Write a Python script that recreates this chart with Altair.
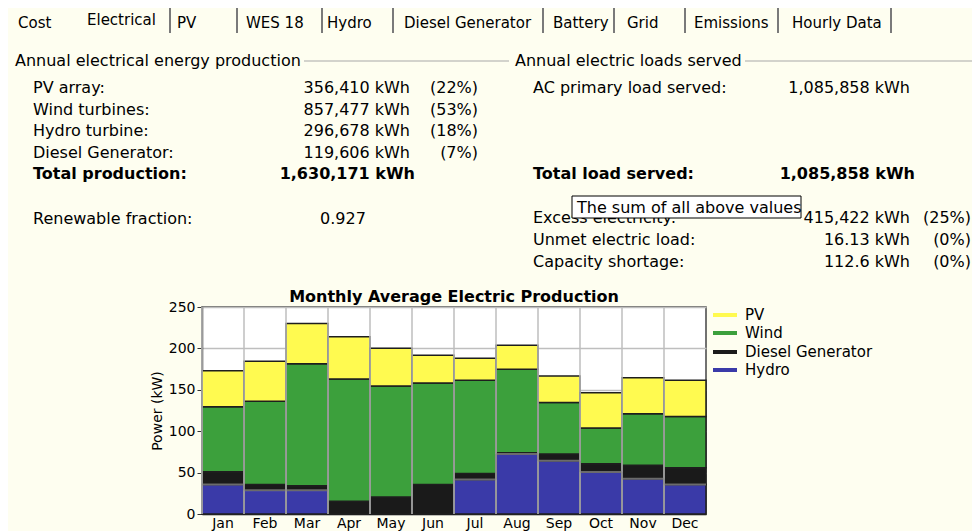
import altair as alt
import pandas as pd

# ---------------- data ----------------
months = ["Jan", "Feb", "Mar", "Apr", "May", "Jun", "Jul", "Aug", "Sep", "Oct", "Nov", "Dec"]
hydro = [35.6, 28.7, 28.7, 0.0, 0.0, 0.0, 41.7, 72.4, 64.3, 50.6, 42.5, 35.6]
diesel = [15.4, 6.9, 5.3, 15.4, 20.6, 35.6, 7.3, 1.6, 8.1, 10.1, 16.5, 20.2]
wind = [78.4, 100.7, 147.6, 147.6, 133.9, 122.6, 112.4, 100.8, 62.3, 43.3, 62.0, 61.9]
pv = [43.6, 48.2, 48.6, 51.0, 45.7, 33.5, 26.6, 29.1, 32.0, 42.4, 43.6, 43.7]
series_names = ["PV", "Wind", "Diesel Generator", "Hydro"]
series_colors = ["#FFFA50", "#3CA03C", "#1A1A1A", "#3A3AA8"]
y_ticks = [0, 50, 100, 150, 200, 250]

tab_names = ["Cost", "Electrical", "PV", "WES 18", "Hydro", "Diesel Generator",
             "Battery", "Grid", "Emissions", "Hourly Data"]

left_heading = "Annual electrical energy production"
left_labels = ["PV array:", "Wind turbines:", "Hydro turbine:", "Diesel Generator:"]
left_values = ["356,410 kWh", "857,477 kWh", "296,678 kWh", "119,606 kWh"]
left_pcts = ["(22%)", "(53%)", "(18%)", "(7%)"]
left_total_label = "Total production:"
left_total_value = "1,630,171 kWh"
renew_label = "Renewable fraction:"
renew_value = "0.927"

right_heading = "Annual electric loads served"
right_labels = ["AC primary load served:"]
right_values = ["1,085,858 kWh"]
right_total_label = "Total load served:"
right_total_value = "1,085,858 kWh"
extra_labels = ["Excess electricity:", "Unmet electric load:", "Capacity shortage:"]
extra_values = ["415,422 kWh", "16.13 kWh", "112.6 kWh"]
extra_pcts = ["(25%)", "(0%)", "(0%)"]
tooltip_text = "The sum of all above values"

chart_title = "Monthly Average Electric Production"
y_title = "Power (kW)"

# ---------------- layout (page pixels) ----------------
X0, Y0 = 202, 307          # plot-area origin on the page
PW, PH = 504, 207          # plot-area size
SVG_W, SVG_H = 964, 523    # whole drawing
FONT = "DejaVu Sans"

tab_x = [18, 87, 177, 246, 327, 404, 553, 627, 694, 792]
tab_base = [28, 25, 28, 28, 28, 28, 28, 28, 28, 28]
tab_sep_x = [170, 237, 322, 393, 543, 614, 685, 778, 891]
left_rows_y = [93, 114.5, 136, 157.5]
left_total_y = 179
renew_y = 224
extra_rows_y = [223, 245, 267]
legend_y = [315, 333, 352, 370]


def px(x):
    return x - X0


def py(y):
    return y - Y0


def text_layer(rows, align="left", weight="normal", size=16):
    df = pd.DataFrame(rows, columns=["t", "tx", "ty"])
    df["tx"] = df["tx"] - X0
    df["ty"] = df["ty"] - Y0
    return alt.Chart(df).mark_text(
        align=align, baseline="alphabetic", font=FONT, fontSize=size,
        fontWeight=weight, color="black"
    ).encode(
        x=alt.X("tx:Q", scale=None, axis=None),
        y=alt.Y("ty:Q", scale=None, axis=None),
        text="t:N",
    )


# ---------------- chart data ----------------
rows = []
for i, m in enumerate(months):
    for s, vals, o in [("Hydro", hydro, 0), ("Diesel Generator", diesel, 1),
                       ("Wind", wind, 2), ("PV", pv, 3)]:
        rows.append({"Month": m, "Series": s, "Power": vals[i], "Stack": o})
df = pd.DataFrame(rows)

xscale = alt.Scale(domain=months, paddingInner=0, paddingOuter=0)
yscale = alt.Scale(domain=[0, 250], nice=False, zero=True)
xaxis = alt.Axis(title=None, labelAngle=0, labelFont=FONT, labelFontSize=14,
                 labelColor="black", ticks=False, domainColor="#333333",
                 domainWidth=1.5, labelPadding=13, labelBaseline="alphabetic", grid=False)
yaxis = alt.Axis(title=y_title, values=y_ticks, labelFont=FONT, labelFontSize=14,
                 labelColor="black", tickSize=5, tickColor="#333333",
                 domainColor="#333333", domainWidth=1.5, grid=True, gridColor="#BEBEBE",
                 gridWidth=1.5, labelPadding=2, titleFont=FONT, titleFontSize=14,
                 titleFontWeight="normal", titleColor="black", titleAngle=270,
                 titleX=-45, titleY=PH / 2, titleAlign="center", titleBaseline="middle")

bars = alt.Chart(df).mark_bar(stroke="#1E1E1E", strokeWidth=1.5).encode(
    x=alt.X("Month:N", scale=xscale, sort=months, axis=xaxis),
    y=alt.Y("Power:Q", stack="zero", scale=yscale, axis=yaxis),
    color=alt.Color("Series:N", scale=alt.Scale(domain=series_names, range=series_colors),
                    legend=None),
    order=alt.Order("Stack:Q", sort="ascending"),
)

grid_v = alt.Chart(pd.DataFrame({"Month": months})).mark_rule(
    color="#BEBEBE", strokeWidth=1.5
).encode(
    x=alt.X("Month:N", scale=xscale, sort=months, bandPosition=0, axis=xaxis),
    y=alt.value(0), y2=alt.value(PH),
)

hyd = pd.DataFrame({"Month": months, "Power": hydro})
hyd_pos = hyd[hyd["Power"] > 0]
hydro_ticks = alt.Chart(hyd_pos).mark_tick(
    orient="horizontal", size=PW / 12, thickness=2, color="#8C8C8C"
).encode(
    x=alt.X("Month:N", scale=xscale, sort=months, axis=xaxis),
    y=alt.Y("Power:Q", scale=yscale, axis=yaxis),
)
conn = []
for i in range(1, len(months)):
    if hydro[i] > 0 and hydro[i - 1] > 0:
        conn.append({"Month": months[i], "Power": hydro[i - 1], "Power2": hydro[i]})
hydro_conn = alt.Chart(pd.DataFrame(conn)).mark_rule(color="#8C8C8C", strokeWidth=2).encode(
    x=alt.X("Month:N", scale=xscale, sort=months, bandPosition=0, axis=xaxis),
    y=alt.Y("Power:Q", scale=yscale, axis=yaxis),
    y2="Power2:Q",
)

# legend (manual)
leg = pd.DataFrame({"Series": series_names,
                    "lx": [px(713)] * 4, "lx2": [px(737)] * 4,
                    "ly": [py(v) for v in legend_y]})
legend_lines = alt.Chart(leg).mark_rule(strokeWidth=4).encode(
    x=alt.X("lx:Q", scale=None, axis=None),
    x2="lx2:Q",
    y=alt.Y("ly:Q", scale=None, axis=None),
    color=alt.Color("Series:N", scale=alt.Scale(domain=series_names, range=series_colors),
                    legend=None),
)
legend_text = text_layer([(s, 745, yy + 5) for s, yy in zip(series_names, legend_y)], size=15)

title_text = text_layer([(chart_title, X0 + PW / 2, 302)], align="center", weight="bold", size=16)

# ---------------- UI parts ----------------
tab_seps = alt.Chart(pd.DataFrame({"sx": [px(v) for v in tab_sep_x],
                                   "sy": [py(3)] * len(tab_sep_x),
                                   "sy2": [py(33)] * len(tab_sep_x)})).mark_rule(
    color="#7A7A7A", strokeWidth=2
).encode(x=alt.X("sx:Q", scale=None, axis=None), y=alt.Y("sy:Q", scale=None, axis=None),
         y2="sy2:Q")

tabs = text_layer(list(zip(tab_names, tab_x, tab_base)), size=15)

head_lines = alt.Chart(pd.DataFrame({"hx": [px(304), px(745)], "hx2": [px(509), px(975)],
                                     "hy": [py(61), py(61)]})).mark_rule(
    color="#A8A8A8", strokeWidth=1
).encode(x=alt.X("hx:Q", scale=None, axis=None), x2="hx2:Q",
         y=alt.Y("hy:Q", scale=None, axis=None))

headings = text_layer([(left_heading, 15, 66), (right_heading, 515, 66)])

left_lab = text_layer([(t, 33, y) for t, y in zip(left_labels, left_rows_y)]
                      + [(renew_label, 33, renew_y)]
                      + [(t, 533, y) for t, y in zip(right_labels, [93])]
                      + [(t, 533, y) for t, y in zip(extra_labels, extra_rows_y)])
vals = text_layer([(t, 410, y) for t, y in zip(left_values, left_rows_y)]
                  + [(t, 910, y) for t, y in zip(right_values, [93])]
                  + [(t, 910, y) for t, y in zip(extra_values, extra_rows_y)], align="right")
pcts = text_layer([(t, 478, y) for t, y in zip(left_pcts, left_rows_y)]
                  + [(t, 971, y) for t, y in zip(extra_pcts, extra_rows_y)], align="right")
renew = text_layer([(renew_value, 343, renew_y)], align="center")
bold_lab = text_layer([(left_total_label, 33, left_total_y), (right_total_label, 533, left_total_y)],
                      weight="bold")
bold_val = text_layer([(left_total_value, 415, left_total_y), (right_total_value, 915, left_total_y)],
                      align="right", weight="bold")

tip_box = alt.Chart(pd.DataFrame({"bx": [px(572)], "bx2": [px(801)],
                                  "by": [py(196)], "by2": [py(218)]})).mark_rect(
    fill="white", stroke="black", strokeWidth=1
).encode(x=alt.X("bx:Q", scale=None, axis=None), x2="bx2:Q",
         y=alt.Y("by:Q", scale=None, axis=None), y2="by2:Q")
tip_text = text_layer([(tooltip_text, 577, 213)])

chart = alt.layer(
    bars, grid_v, hydro_ticks, hydro_conn, legend_lines, legend_text, title_text,
    tab_seps, tabs, head_lines, headings, left_lab, vals, pcts, renew, bold_lab, bold_val,
    tip_box, tip_text,
).properties(
    width=PW, height=PH,
    padding={"left": X0 - 8, "top": Y0 - 8, "right": SVG_W - (X0 - 8) - PW,
             "bottom": SVG_H - (Y0 - 8) - PH},
    autosize=alt.AutoSizeParams(type="none"),
    background="#FEFEF0",
).configure_view(fill="white", stroke="#444444", strokeWidth=1.5)

chart.save("out.html", embed_options={"renderer": "svg", "actions": False})
